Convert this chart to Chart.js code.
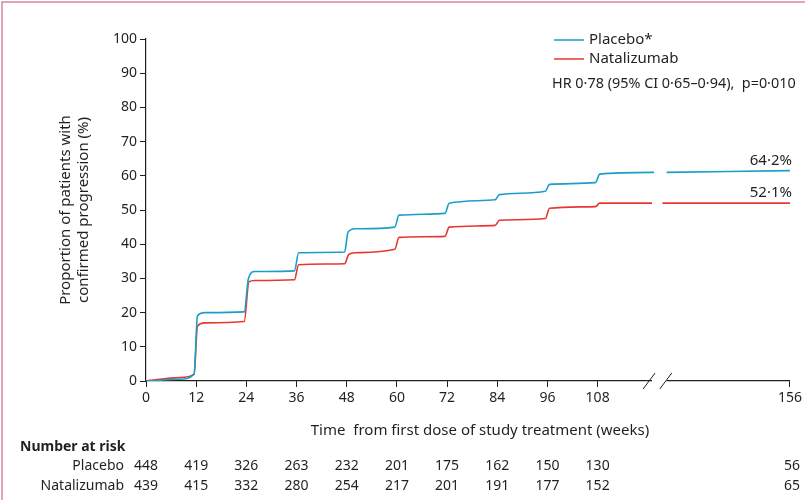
<!DOCTYPE html>
<html><head><meta charset="utf-8">
<script src="https://cdn.jsdelivr.net/npm/chart.js@4"></script>
<style>html,body{margin:0;padding:0;background:#fff}#c{display:block}</style>
</head><body>
<canvas id="c" width="805" height="500"></canvas>
<script>
// weeks 156 is drawn at 154 on the axis because of the break
const AXIS_END = 154;
const tickWeeks = [0, 12, 24, 36, 48, 60, 72, 84, 96, 108, 156];

const placeboX = [0, 8, 11.5, 12.3, 14, 23.5, 24.5, 26, 35.5, 36.5, 47.5, 48.3, 50, 59.5, 60.5, 71.5, 72.5, 83.5, 84.5, 95.5, 96.5, 107.5, 108.5, 121.5, null, 124.5, 154];
const placeboY = [0, 0.5, 2, 19, 20, 20.2, 30, 32, 32.2, 37.5, 37.7, 43.5, 44.5, 45, 48.5, 49, 52, 53, 54.5, 55.5, 57.5, 58, 60.5, 61, null, 61, 61.5];
const nataX = [0, 8, 11.5, 12.3, 14, 23.5, 24.6, 26, 35.5, 36.5, 47.5, 48.5, 50, 59.5, 60.5, 71.5, 72.5, 83.5, 84.5, 95.5, 96.5, 107.5, 108.5, 121, null, 123.5, 154];
const nataY = [0, 1, 2, 16, 17, 17.4, 29, 29.4, 29.6, 34, 34.3, 37, 37.5, 38.5, 42, 42.3, 45, 45.5, 47, 47.5, 50.5, 51, 52, 52, null, 52, 52];

const riskPlacebo = [448, 419, 326, 263, 232, 201, 175, 162, 150, 130, 56];
const riskNata = [439, 415, 332, 280, 254, 217, 201, 191, 177, 152, 65];

const BLUE = '#1a9fc6', RED = '#e8372f', INK = '#231f20';
const FONT = '"Noto Sans", sans-serif';

function pts(xs, ys) { return xs.map((x, i) => ({x: x, y: ys[i]})); }
function axisPos(w) { return w === 156 ? AXIS_END : w; }

const extras = {
    id: 'extras',
    afterDraw(chart) {
        const c = chart.ctx, xs = chart.scales.x, ys = chart.scales.y;
        c.save();
        // pink frame
        c.strokeStyle = '#d9869f'; c.lineWidth = 1.5;
        c.beginPath(); c.moveTo(2, 500); c.lineTo(2, 2); c.lineTo(805, 2); c.stroke();
        // axis break
        const yb = ys.getPixelForValue(0);
        c.fillStyle = '#fff'; c.fillRect(xs.getPixelForValue(121), yb - 2, xs.getPixelForValue(124.5) - xs.getPixelForValue(121), 4);
        c.strokeStyle = INK; c.lineWidth = 1;
        [120.3, 124.3].forEach(w => {
            const px = xs.getPixelForValue(w);
            c.beginPath(); c.moveTo(px - 6, yb + 8); c.lineTo(px + 6, yb - 8); c.stroke();
        });
        c.fillStyle = INK; c.font = '15px ' + FONT;
        // axis titles
        c.textAlign = 'center'; c.textBaseline = 'middle';
        c.fillText('Time  from first dose of study treatment (weeks)', (xs.left + xs.right) / 2 + 12, 431);
        c.save(); c.translate(75, 210); c.rotate(-Math.PI / 2);
        c.fillText('Proportion of patients with', 0, -9);
        c.fillText('confirmed progression (%)', 0, 9);
        c.restore();
        // legend
        c.textAlign = 'left';
        c.lineWidth = 1.5;
        [[BLUE, 'Placebo*', 40], [RED, 'Natalizumab', 59]].forEach(([col, txt, y]) => {
            c.strokeStyle = col; c.beginPath(); c.moveTo(554, y); c.lineTo(584, y); c.stroke();
            c.fillText(txt, 589, y);
        });
        c.font = '14.4px ' + FONT;
        c.fillText('HR 0·78 (95% CI 0·65–0·94),  p=0·010', 552, 84);
        c.font = '15px ' + FONT;
        // end labels
        c.textAlign = 'right';
        c.fillText('64·2%', 792, 161);
        c.fillText('52·1%', 792, 193);
        // number at risk
        c.textAlign = 'left'; c.font = 'bold 14px ' + FONT;
        c.fillText('Number at risk', 20, 447);
        c.font = '14px ' + FONT; c.textAlign = 'right';
        c.fillText('Placebo', 124, 466);
        c.fillText('Natalizumab', 124, 486);
        c.textAlign = 'center';
        tickWeeks.forEach((w, i) => {
            let px = xs.getPixelForValue(axisPos(w));
            if (w === 156) { c.textAlign = 'right'; px = 800; }
            c.fillText(String(riskPlacebo[i]), px, 466);
            c.fillText(String(riskNata[i]), px, 486);
        });
        c.restore();
    }
};

new Chart(document.getElementById('c'), {
    type: 'line',
    data: {
        datasets: [
            {label: 'Placebo*', data: pts(placeboX, placeboY), borderColor: BLUE, borderWidth: 1.6, pointRadius: 0, cubicInterpolationMode: 'monotone', spanGaps: false},
            {label: 'Natalizumab', data: pts(nataX, nataY), borderColor: RED, borderWidth: 1.6, pointRadius: 0, cubicInterpolationMode: 'monotone', spanGaps: false}
        ]
    },
    options: {
        responsive: false, animation: false,
        layout: {padding: {left: 0, top: 39, right: 11, bottom: 87}},
        plugins: {legend: {display: false}, tooltip: {enabled: false}},
        scales: {
            x: {
                type: 'linear', min: 0, max: AXIS_END,
                afterBuildTicks: s => { s.ticks = tickWeeks.map(w => ({value: axisPos(w)})); },
                afterFit: s => { s.height = 32; },
                ticks: {color: INK, font: {size: 14, family: FONT}, maxRotation: 0, autoSkip: false,
                    callback: v => v === AXIS_END ? '156' : String(v)},
                grid: {drawOnChartArea: false, color: INK, tickLength: 6},
                border: {color: INK, width: 1.2}
            },
            y: {
                min: 0, max: 100,
                afterFit: s => { s.width = 146; },
                ticks: {stepSize: 10, color: INK, font: {size: 14, family: FONT}},
                grid: {drawOnChartArea: false, color: INK, tickLength: 6},
                border: {color: INK, width: 1.2}
            }
        }
    },
    plugins: [extras]
});
</script>
</body></html>
